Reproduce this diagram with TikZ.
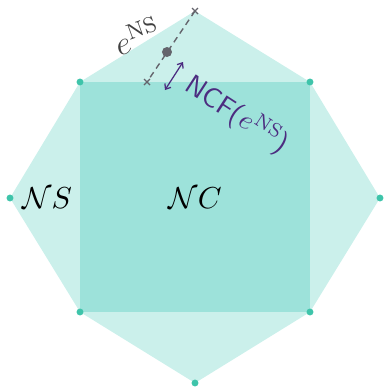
\documentclass[tikz,border=0pt]{standalone}
\usepackage{amsmath}
\usetikzlibrary{arrows.meta, calc}

\definecolor{hexfill}{RGB}{203,240,235}
\definecolor{sqfill}{RGB}{157,226,218}
\definecolor{vdot}{RGB}{62,196,170}
\definecolor{ncfcol}{RGB}{76,44,128}
\definecolor{edgegray}{RGB}{100,100,108}

\begin{document}
\begin{tikzpicture}[x=0.36bp, y=0.36bp,
  vert/.style={circle, fill=vdot, inner sep=0pt, minimum size=2.5bp},
  cross/.style={edgegray, line width=0.4bp},
  lbl/.style={inner sep=0.5bp}]
  \useasboundingbox (0,0) rectangle (387,388);
  \coordinate (t) at (195,377);
  \coordinate (ul) at (80,306);
  \coordinate (ur) at (310,306);
  \coordinate (l) at (10,190);
  \coordinate (r) at (380,190);
  \coordinate (ll) at (80,76);
  \coordinate (lr) at (310,76);
  \coordinate (b) at (195,5);
  \coordinate (e0) at (147,306);
  \coordinate (a1) at (183,326);
  \coordinate (a2) at (165,298);
  % regions
  \fill[hexfill] (t) -- (ur) -- (r) -- (lr) -- (b) -- (ll) -- (l) -- (ul) -- cycle;
  \fill[sqfill] (ul) rectangle (lr);
  % vertices
  \foreach \v in {ul, ur, l, r, ll, lr, b}
    \node[vert] at (\v) {};
  % edge normal
  \draw[edgegray, line width=0.5bp, dash pattern=on 2.2bp off 1.6bp] (t) -- (e0);
  \draw[cross] ($(t)+(-3,-3)$) -- ($(t)+(3,3)$) ($(t)+(-3,3)$) -- ($(t)+(3,-3)$);
  \draw[cross] ($(e0)+(-3,-3)$) -- ($(e0)+(3,3)$) ($(e0)+(-3,3)$) -- ($(e0)+(3,-3)$);
  \fill[edgegray] (167,336) circle (1.8bp);
  \draw[ncfcol, line width=0.45bp, {Straight Barb[length=1.6bp, width=2.6bp]}-{Straight Barb[length=1.6bp, width=2.6bp]}] (a1) -- (a2);
  % labels
  \node[lbl, rotate=20, text=black!75, font=\fontsize{12}{14}\selectfont] (eNS) at (137,352) {$e^{\mathrm{NS}}$};
  \node[lbl, rotate=-33, text=ncfcol] (NCF) at (237,273) {\sffamily NCF($e^{\mathrm{NS}}$)};
  \node[lbl, font=\fontsize{10.95}{13}\selectfont] (NS) at (47,190) {$\mathcal{N}S$};
  \node[lbl, font=\fontsize{10.95}{13}\selectfont] (NC) at (195,190) {$\mathcal{N}C$};
\end{tikzpicture}
\end{document}
